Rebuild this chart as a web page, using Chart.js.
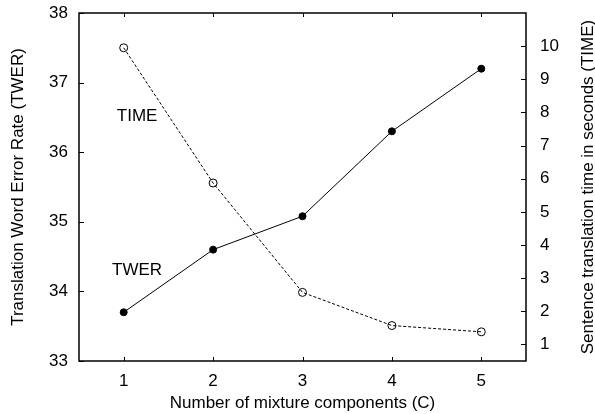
<!DOCTYPE html>
<html>
<head>
<meta charset="utf-8">
<script src="https://cdn.jsdelivr.net/npm/chart.js@4/dist/chart.umd.min.js"></script>
<style>
  html, body { margin: 0; padding: 0; background: #fff; }
</style>
</head>
<body>
<canvas id="chart" width="595" height="414"></canvas>
<script>
// data
var components = [1, 2, 3, 4, 5];
var twer = [33.7, 34.6, 35.08, 36.3, 37.2];
var timeSec = [9.95, 5.87, 2.57, 1.57, 1.38];

var xTicks = [1, 2, 3, 4, 5];
var twerTicks = [33, 34, 35, 36, 37, 38];
var timeTicks = [1, 2, 3, 4, 5, 6, 7, 8, 9, 10];

var FONT = "'Liberation Sans', Arial, sans-serif";

function pts(ys) {
  return components.map(function(c, i) { return {x: c, y: ys[i]}; });
}

function setTicks(list) {
  return function(scale) {
    scale.ticks = list.map(function(v) { return {value: v}; });
  };
}

// fixed axis sizes so the plot frame lands where it does in the figure
function fitSize(prop, size) {
  return function(s) {
    s[prop] = size;
    s.paddingTop = 0; s.paddingBottom = 0;
    s.paddingLeft = 0; s.paddingRight = 0;
  };
}

// gnuplot style frame, inward ticks, in-plot labels, right title
var framePlugin = {
  id: "frame",
  afterDraw: function(chart) {
    var ctx = chart.ctx;
    var a = chart.chartArea;
    var sx = chart.scales.x, sy = chart.scales.y, sy2 = chart.scales.y2;
    ctx.save();
    ctx.strokeStyle = "#000";
    ctx.lineWidth = 1;
    ctx.beginPath();
    xTicks.forEach(function(v) {
      var px = Math.round(sx.getPixelForValue(v)) + 0.5;
      ctx.moveTo(px, a.bottom); ctx.lineTo(px, a.bottom - 4);
      ctx.moveTo(px, a.top); ctx.lineTo(px, a.top + 4);
    });
    twerTicks.forEach(function(v) {
      var py = Math.round(sy.getPixelForValue(v)) + 0.5;
      ctx.moveTo(a.left, py); ctx.lineTo(a.left + 5, py);
    });
    timeTicks.forEach(function(v) {
      var py = Math.round(sy2.getPixelForValue(v)) + 0.5;
      ctx.moveTo(a.right, py); ctx.lineTo(a.right - 5, py);
    });
    ctx.stroke();
    ctx.lineWidth = 1.5;
    ctx.strokeRect(a.left, a.top, a.right - a.left, a.bottom - a.top);

    ctx.fillStyle = "#000";
    ctx.font = "17px " + FONT;
    ctx.textAlign = "center";
    ctx.textBaseline = "middle";
    ctx.fillText("TIME", sx.getPixelForValue(1.15), sy.getPixelForValue(36.52));
    ctx.fillText("TWER", sx.getPixelForValue(1.15), sy.getPixelForValue(34.31));

    ctx.translate(588, (a.top + a.bottom) / 2);
    ctx.rotate(-Math.PI / 2);
    ctx.fillText("Sentence translation time in seconds (TIME)", 0, 0);
    ctx.restore();
  }
};

var chart = new Chart(document.getElementById("chart"), {
  type: "line",
  data: {
    datasets: [
      {
        label: "TWER",
        data: pts(twer),
        yAxisID: "y",
        borderColor: "#000",
        borderWidth: 1,
        pointRadius: 3.5,
        pointBackgroundColor: "#000",
        pointBorderColor: "#000",
        pointBorderWidth: 1,
        tension: 0
      },
      {
        label: "TIME",
        data: pts(timeSec),
        yAxisID: "y2",
        borderColor: "#000",
        borderWidth: 1,
        borderDash: [3, 2],
        pointRadius: 4,
        pointBackgroundColor: "rgba(0,0,0,0)",
        pointBorderColor: "#000",
        pointBorderWidth: 1,
        tension: 0
      }
    ]
  },
  options: {
    responsive: false,
    animation: false,
    devicePixelRatio: 1,
    layout: { padding: { top: 13, left: 0, right: 0, bottom: 0 } },
    plugins: {
      legend: { display: false },
      tooltip: { enabled: false }
    },
    scales: {
      x: {
        type: "linear",
        min: 0.5,
        max: 5.5,
        afterBuildTicks: setTicks(xTicks),
        afterFit: fitSize("height", 53),
        grid: { display: false, drawTicks: false },
        border: { display: false },
        ticks: { color: "#000", padding: 10, font: { family: FONT, size: 17 } },
        title: {
          display: true,
          text: "Number of mixture components (C)",
          color: "#000",
          padding: { top: 0, bottom: 0 },
          font: { family: FONT, size: 17 }
        }
      },
      y: {
        position: "left",
        min: 33,
        max: 38,
        afterBuildTicks: setTicks(twerTicks),
        afterFit: fitSize("width", 79),
        grid: { display: false, drawTicks: false },
        border: { display: false },
        ticks: { color: "#000", padding: 11, font: { family: FONT, size: 17 } },
        title: {
          display: true,
          text: "Translation Word Error Rate (TWER)",
          color: "#000",
          padding: { top: 8, bottom: 0 },
          font: { family: FONT, size: 17 }
        }
      },
      y2: {
        position: "right",
        min: 0.5,
        max: 11,
        afterBuildTicks: setTicks(timeTicks),
        afterFit: fitSize("width", 69),
        grid: { display: false, drawTicks: false },
        border: { display: false },
        ticks: { color: "#000", padding: 14, font: { family: FONT, size: 17 } }
      }
    }
  },
  plugins: [framePlugin]
});
</script>
</body>
</html>
